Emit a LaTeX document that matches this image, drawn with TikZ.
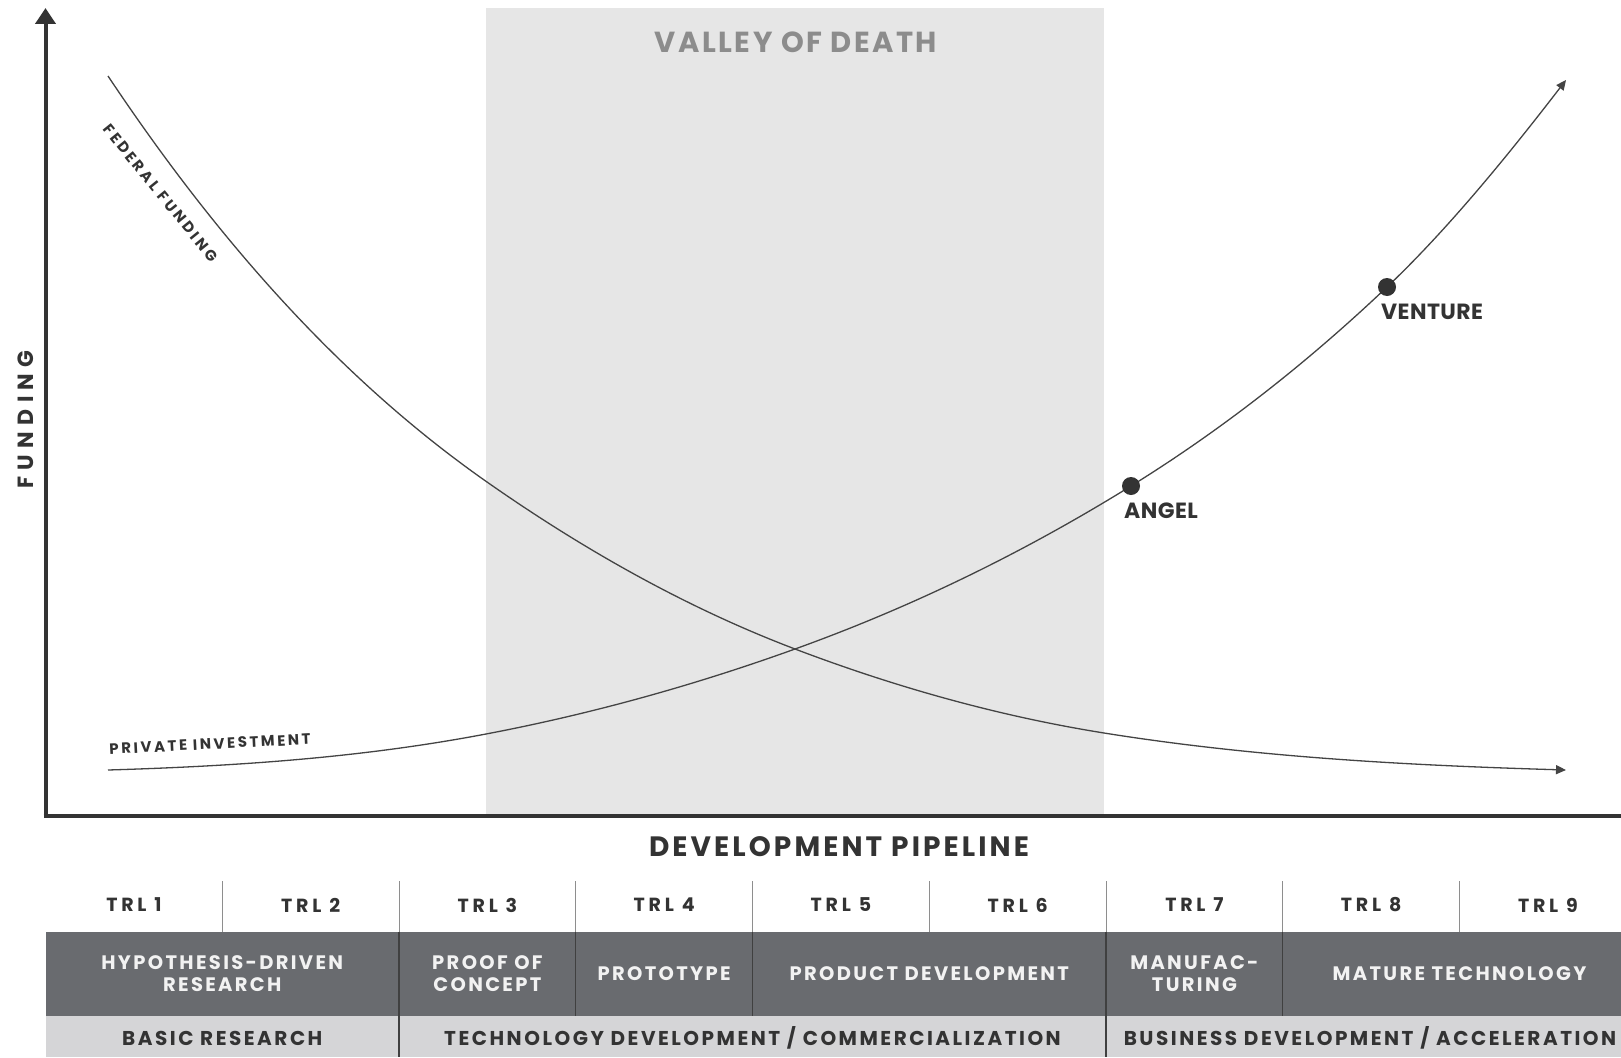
\documentclass[tikz,border=0pt]{standalone}
\usepackage{fontspec}
\IfFontExistsTF{Poppins Bold}{\setmainfont{Poppins Bold}}{\setmainfont{Poppins}}
\usetikzlibrary{arrows.meta}

\definecolor{valley}{HTML}{E6E6E6}
\definecolor{ink}{HTML}{333333}
\definecolor{curvecol}{HTML}{444444}
\definecolor{band}{HTML}{696B6F}
\definecolor{bandlight}{HTML}{D5D5D7}
\definecolor{bandrule}{HTML}{404040}
\definecolor{trlrule}{HTML}{8E8E8E}
\definecolor{valleytxt}{HTML}{8C8C8C}
\definecolor{bandtxt}{HTML}{F2F2F2}

% size, baselineskip, tracking
\newcommand\gfont[3]{\fontsize{#1}{#2}\selectfont\addfontfeature{LetterSpace=#3}}

\begin{document}
\begin{tikzpicture}[x=1pt,y=-1pt,
  lbl/.style={inner sep=0pt, text=ink},
  trl/.style={lbl, font=\gfont{19}{22}{20}},
  stage/.style={inner sep=0pt, text=bandtxt, align=center, font=\gfont{19.5}{22.3}{12}},
  phase/.style={lbl, text=ink, font=\gfont{20}{22}{12.5}},
  curveline/.style={draw=curvecol, line width=1.3pt, -{Triangle[length=10pt,width=9pt]}},
  axis/.style={draw=ink, line width=4pt},
  dot/.style={circle, fill=ink, minimum size=18pt, inner sep=0pt},
  tagline/.style={lbl, anchor=west, font=\gfont{22}{24}{2}},
]
\useasboundingbox (0,0) rectangle (1621,1057);
\clip (0,0) rectangle (1621,1057);
\fill[white] (0,0) rectangle (1621,1057);

% valley band
\fill[valley] (486,8) rectangle (1104,815);
\node[lbl, text=valleytxt, font=\gfont{29}{30}{8.5}] (valleyLbl) at (796,42) {VALLEY OF DEATH};

% federal funding: falling curve
\coordinate (fedStart) at (108,76);
\coordinate (fedA) at (487,482);
\coordinate (cross) at (795,649);
\coordinate (fedB) at (1104,733);
\coordinate (fedEnd) at (1566,770);
\draw[curveline] (fedStart)
  .. controls (234.3,265.5) and (360.7,393.6) .. (fedA)
  .. controls (589.7,553.9) and (692.3,610) .. (cross)
  .. controls (898,688.1) and (1001,716.5) .. (fedB)
  .. controls (1258,757.6) and (1412,765.4) .. (fedEnd);

% private investment: rising curve
\coordinate (privStart) at (108,770);
\coordinate (privA) at (486,734);
\coordinate (angel) at (1131,486);
\coordinate (venture) at (1387,287);
\coordinate (privEnd) at (1566,80);
\draw[curveline] (privStart)
  .. controls (234,766.2) and (360,758) .. (privA)
  .. controls (589,714.4) and (692,686.1) .. (cross)
  .. controls (907,608.7) and (1019,555.4) .. (angel)
  .. controls (1216.3,433.1) and (1301.7,368) .. (venture)
  .. controls (1446.7,230.3) and (1506.3,157.6) .. (privEnd);

\node[dot] (angelDot) at (angel) {};
\node[dot] (ventureDot) at (venture) {};
\node[tagline] (angelLbl) at (1124,511) {ANGEL};
\node[tagline] (ventureLbl) at (1381,312) {VENTURE};
\node[lbl, font=\gfont{15}{17}{17}, rotate=2.8] (privLbl) at (210,744) {PRIVATE INVESTMENT};
\node[lbl, font=\gfont{15}{17}{19}, rotate=-51] (fedLbl) at (160.5,193) {FEDERAL FUNDING};

% axes
\coordinate (origin) at (45.5,816);
\coordinate (ytip) at (45.5,8);
\coordinate (xstart) at (43.5,816);
\coordinate (xtip) at (1641,816);
\draw[axis, -{Triangle[length=16pt,width=20pt]}] (origin) -- (ytip);
\draw[axis, -{Triangle[length=20pt,width=22pt]}] (xstart) -- (xtip);
\node[lbl, font=\gfont{22}{24}{29}, rotate=90] (yLbl) at (26,419.5) {FUNDING};
\node[lbl, font=\gfont{28}{30}{11}] (xLbl) at (839,846.5) {DEVELOPMENT PIPELINE};

% table: columns of width 176.75 starting at 45.5
\fill[band] (45.5,931.5) rectangle (1621,1016);
\fill[bandlight] (45.5,1016) rectangle (1621,1057);
\foreach \k in {1,...,8} {
  \pgfmathsetmacro\xx{45.5+176.75*\k}
  \draw[trlrule, line width=1pt] (\xx,881) -- (\xx,931.5);
}
\foreach \k in {2,3,4,6,7} {
  \pgfmathsetmacro\xx{45.5+176.75*\k}
  \draw[bandrule, line width=1.2pt] (\xx,931.5) -- (\xx,1016);
}
\foreach \k in {2,6} {
  \pgfmathsetmacro\xx{45.5+176.75*\k}
  \draw[bandrule, line width=1.2pt] (\xx,1016) -- (\xx,1057);
}
\foreach \k in {1,...,9} {
  \pgfmathsetmacro\xx{45.5+176.75*(\k-0.5)}
  \node[trl] (trl\k) at (\xx,905) {TRL \k};
}

\node[stage] (hyp) at (222.25,973.5) {HYPOTHESIS-DRIVEN\\RESEARCH};
\node[stage] (poc) at (487.4,973.5) {PROOF OF\\CONCEPT};
\node[stage] (proto) at (664.1,973.5) {PROTOTYPE};
\node[stage] (proddev) at (929.25,973.5) {PRODUCT DEVELOPMENT};
\node[stage] (manuf) at (1194.4,973.5) {MANUFAC-\\TURING};
\node[stage] (mature) at (1459.5,973.5) {MATURE TECHNOLOGY};

\node[phase] (basic) at (222.25,1038) {BASIC RESEARCH};
\node[phase] (techdev) at (752.5,1038) {TECHNOLOGY DEVELOPMENT / COMMERCIALIZATION};
\node[phase] (bizdev) at (1370,1038) {BUSINESS DEVELOPMENT / ACCELERATION};
\end{tikzpicture}
\end{document}
